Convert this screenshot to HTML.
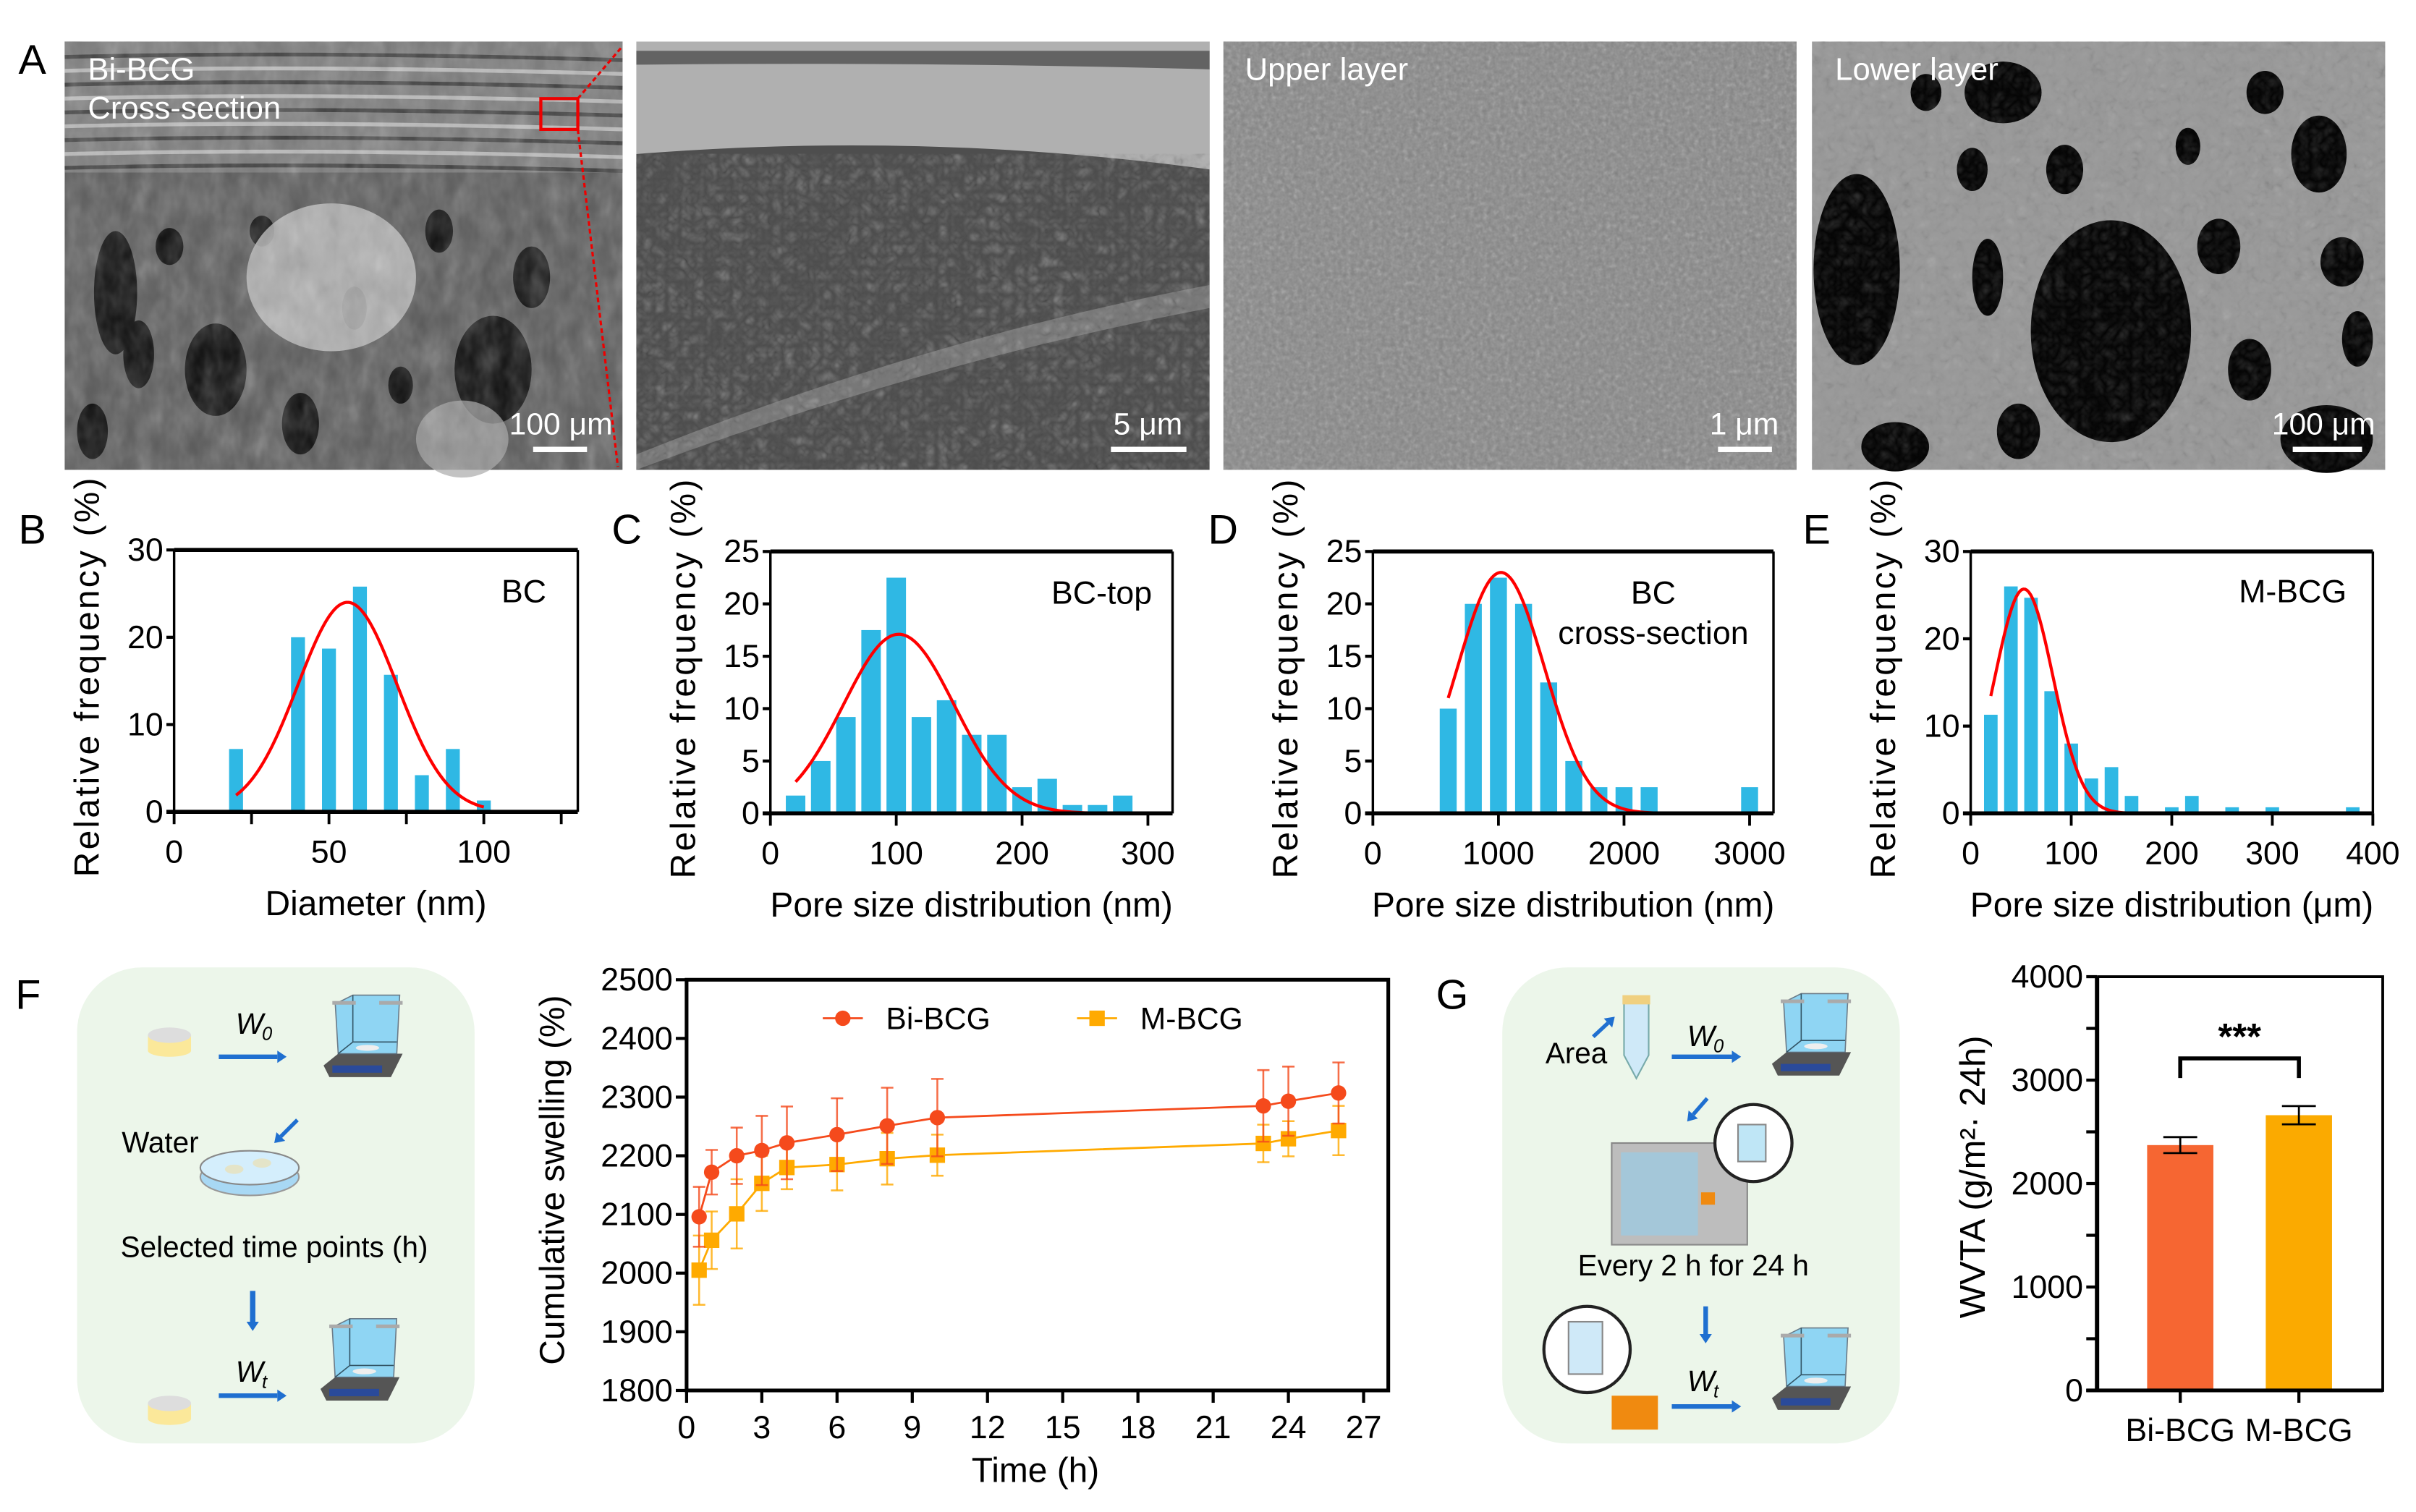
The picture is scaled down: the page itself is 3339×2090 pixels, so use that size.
<!DOCTYPE html>
<html><head><meta charset="utf-8"><style>
html,body{margin:0;padding:0;background:#fff;}
svg{display:block;font-family:"Liberation Sans",Arial,sans-serif;}
</style></head><body>
<svg id="fig" width="3339" height="2090" viewBox="0 0 1568 981.5" preserveAspectRatio="none">
<defs>
<filter id="noiseA" x="0" y="0" width="100%" height="100%"><feTurbulence type="fractalNoise" baseFrequency="0.09 0.05" numOctaves="3" seed="3"/><feColorMatrix type="saturate" values="0"/></filter>
<filter id="noiseF" x="0" y="0" width="100%" height="100%"><feTurbulence type="fractalNoise" baseFrequency="0.35" numOctaves="2" seed="7"/><feColorMatrix type="saturate" values="0"/></filter>
<filter id="noiseB" x="0" y="0" width="100%" height="100%"><feTurbulence type="turbulence" baseFrequency="0.12" numOctaves="2" seed="5"/><feColorMatrix type="saturate" values="0"/></filter>
</defs>
<g id="panelA"></g>
<g id="charts"></g>
</svg>
<script>
// ---------- data ----------
const bCenters=[20,40,50,60,70,80,90,100];
const bValues=[7.2,20,18.7,25.8,15.7,4.2,7.2,1.3];
const bFit=[24,56,16,20,100];
const cCenters=[20,40,60,80,100,120,140,160,180,200,220,240,260,280];
const cValues=[1.7,5,9.2,17.5,22.5,9.2,10.8,7.5,7.5,2.5,3.3,0.8,0.8,1.7];
const cFit=[17.1,102,44,20,280];
const dCenters=[600,800,1000,1200,1400,1600,1800,2000,2200,3000];
const dValues=[10,20,22.5,20,12.5,5,2.5,2.5,2.5,2.5];
const dFit=[23,1020,346,600,3000];
const eCenters=[20,40,60,80,100,120,140,160,200,220,260,300,380];
const eValues=[11.3,26,24.7,14,8,4,5.3,2,0.7,2,0.7,0.7,0.7];
const eFit=[25.7,53,29,20,380];
const fTimes=[0.5,1,2,3,4,6,8,10,23,24,26];
const fBi=[2096,2172,2200,2209,2222,2236,2251,2265,2285,2293,2307];
const fBiErr=[51,38,48,59,62,62,65,66,61,59,52];
const fM=[2005,2056,2101,2153,2180,2185,2195,2201,2221,2229,2243];
const fMErr=[59,49,59,47,37,44,44,35,32,30,42];
const fXTicks=[0,3,6,9,12,15,18,21,24,27];
const fYTicks=[1800,1900,2000,2100,2200,2300,2400,2500];
const gCats=['Bi-BCG','M-BCG'];
const gValues=[2372,2661];
const gErr=[77,88];
const gYTicks=[0,1000,2000,3000,4000];

const NS='http://www.w3.org/2000/svg';
const root=document.getElementById('charts');
function el(tag,attrs,parent,txt){const e=document.createElementNS(NS,tag);for(const k in attrs)e.setAttribute(k,attrs[k]);if(txt!==undefined)e.textContent=txt;(parent||root).appendChild(e);return e;}

// ---------- Panel A images ----------
(function(){
const A=document.getElementById('panelA');
const y0=27;
// img1
let g=el('g',{},A);
el('rect',{x:42,y:y0,width:362,height:278,fill:'#5a5a5a'},g);
el('rect',{x:42,y:y0,width:362,height:85,fill:'#7a7a7a'},g);
for(let i=0;i<9;i++)el('path',{d:`M42 ${y0+10+i*9} Q200 ${y0+6+i*9} 404 ${y0+12+i*9}`,stroke:i%2?'#d0d0d0':'#2a2a2a',"stroke-width":2.5,fill:'none',opacity:0.75},g);
[[75,190,14,40],[140,240,20,30],[110,160,9,12],[320,240,25,35],[230,200,8,14],[60,280,10,18],[285,150,9,14],[195,275,12,20],[90,230,10,22],[345,180,12,20],[260,250,8,12],[170,150,8,10]].forEach(p=>el('ellipse',{cx:p[0],cy:p[1],rx:p[2],ry:p[3],fill:'#080808'},g));
el('ellipse',{cx:215,cy:180,rx:55,ry:48,fill:'#bdbdbd',opacity:0.85},g);
el('ellipse',{cx:300,cy:285,rx:30,ry:25,fill:'#aaa',opacity:0.7},g);
el('rect',{x:42,y:y0,width:362,height:278,filter:'url(#noiseA)',opacity:0.4},g);
el('rect',{x:351,y:64,width:24,height:20,fill:'none',stroke:'#e00',"stroke-width":2},g);
el('line',{x1:375,y1:64,x2:404,y2:30,stroke:'#e00',"stroke-width":1.5,"stroke-dasharray":'3,2'},g);
el('line',{x1:375,y1:84,x2:401,y2:303,stroke:'#e00',"stroke-width":1.5,"stroke-dasharray":'3,2'},g);
// img2
g=el('g',{},A);
el('rect',{x:413,y:y0,width:372,height:278,fill:'#4e4e4e'},g);
el('path',{d:'M413 27 H785 V110 Q600 85 413 100 Z',fill:'#b0b0b0'},g);
el('path',{d:'M413 33 H785 V45 Q600 40 413 42 Z',fill:'#303030',opacity:0.6},g);
el('path',{d:'M413 295 Q600 220 785 185 V200 Q600 235 413 305 Z',fill:'#8a8a8a',opacity:0.7},g);
el('rect',{x:413,y:100,width:372,height:205,filter:'url(#noiseB)',opacity:0.55},g);
// img3
g=el('g',{},A);
el('rect',{x:794,y:y0,width:372,height:278,fill:'#858585'},g);
el('rect',{x:794,y:y0,width:372,height:278,filter:'url(#noiseF)',opacity:0.45},g);
// img4
g=el('g',{},A);
el('rect',{x:1176,y:y0,width:372,height:278,fill:'#9a9a9a'},g);
[[1205,175,28,62],[1370,215,52,72],[1510,285,30,22],[1505,100,18,25],[1300,60,25,20],[1470,60,12,14],[1230,290,22,16],[1440,160,14,18],[1280,110,10,14],[1340,110,12,16],[1520,170,14,16],[1250,60,10,12],[1290,180,10,25],[1460,240,14,20],[1530,220,10,18],[1420,95,8,12],[1310,280,14,18]].forEach(p=>el('ellipse',{cx:p[0],cy:p[1],rx:p[2],ry:p[3],fill:'#050505'},g));
el('rect',{x:1176,y:y0,width:372,height:278,filter:'url(#noiseB)',opacity:0.3},g);
// labels
const lab=[[57,52,'Bi-BCG'],[57,77,'Cross-section'],[808,52,'Upper layer'],[1191,52,'Lower layer']];
lab.forEach(l=>{const t=el('text',{x:l[0],y:l[1],fill:'#fff',"font-size":20.5},A,l[2]);});
const sb=[[364,346,381,'100 μm'],[745,721,770,'5 μm'],[1132,1115,1150,'1 μm'],[1508,1488,1533,'100 μm']];
sb.forEach(s=>{const t=el('text',{x:s[0],y:282,fill:'#fff',"font-size":20,"text-anchor":'middle'},A,s[3]);
const r=el('rect',{x:s[1],y:290,width:s[2]-s[1],height:3.5,fill:'#fff'},A);});
})();

// ---------- panel letters ----------
[[12,48,'A'],[12,353,'B'],[397,353,'C'],[784,353,'D'],[1170,353,'E'],[10,655,'F'],[932,655,'G']].forEach(p=>{
const t=el('text',{x:p[0],y:p[1],"font-size":27,fill:'#000'},root,p[2]);

});

// ---------- histogram ----------
function hist(o){
const g=el('g',{});
const X=v=>o.px0+(v-o.x0)*(o.px1-o.px0)/(o.xr-o.x0);
const Y=v=>o.py0-v*(o.py0-o.py1)/o.ymax;
o.centers.forEach((c,i)=>{const r=el('rect',{x:X(c-o.bw/2),y:Y(o.values[i]),width:X(c+o.bw/2)-X(c-o.bw/2),height:Y(0)-Y(o.values[i]),fill:'#2fb8e4'},g);

});
const f=o.fit;let d='';
for(let k=0;k<=200;k++){const x=f[3]+(f[4]-f[3])*k/200;const y=f[0]*Math.exp(-0.5*Math.pow((x-f[1])/f[2],2));d+=(k?'L':'M')+X(x).toFixed(2)+' '+Y(y).toFixed(2);}
const p=el('path',{d:d,fill:'none',stroke:'#f00',"stroke-width":2},g);


el('line',{x1:o.px0,y1:o.py1,x2:o.pxr,y2:o.py1,stroke:'#000',"stroke-width":2.6},g);
el('line',{x1:o.pxr,y1:o.py1,x2:o.pxr,y2:o.py0,stroke:'#000',"stroke-width":1.6},g);
el('line',{x1:o.px0,y1:o.py1,x2:o.px0,y2:o.py0,stroke:'#000',"stroke-width":1.6},g);
el('line',{x1:o.px0-5,y1:o.py0,x2:o.pxr,y2:o.py0,stroke:'#000',"stroke-width":2.6},g);
o.yticks.forEach(v=>{el('line',{x1:o.px0-5,y1:Y(v),x2:o.px0,y2:Y(v),stroke:'#000',"stroke-width":2},g);
const t=el('text',{x:o.px0-7,y:Y(v)+7,"font-size":21,"text-anchor":'end'},g,String(v));});
o.xticks.forEach(v=>{el('line',{x1:X(v),y1:o.py0,x2:X(v),y2:o.py0+8,stroke:'#000',"stroke-width":1.8},g);});
o.xlabels.forEach(v=>{const t=el('text',{x:X(v),y:o.py0+33,"font-size":21,"text-anchor":'middle'},g,String(v));});
const xt=el('text',{x:(o.px0+o.pxr)/2,y:o.py0+67,"font-size":22.5,"text-anchor":'middle'},g,o.xtitle);

const yt=el('text',{x:0,y:0,"font-size":22.5,"text-anchor":'middle',"letter-spacing":1.5,transform:`translate(${o.px0-49},${(o.py0+o.py1)/2-3}) rotate(-90)`},g,'Relative frequency (%)');

o.tags.forEach(tg=>{const t=el('text',{x:tg[0],y:tg[1],"font-size":21,"text-anchor":'middle'},g,tg[2]);});
}
hist({name:'histogram-b-bc-diameter',px0:113,px1:314,x0:0,xr:100,pxr:375,py0:527,py1:357,ymax:30,centers:bCenters,values:bValues,bw:4.5,fit:bFit,yticks:[0,10,20,30],xticks:[0,25,50,75,100,125],xlabels:[0,50,100],xtitle:'Diameter (nm)',tags:[[340,391,'BC']]});
hist({name:'histogram-c-bc-top',px0:500,px1:745,x0:0,xr:300,pxr:761,py0:528,py1:358,ymax:25,centers:cCenters,values:cValues,bw:15.5,fit:cFit,yticks:[0,5,10,15,20,25],xticks:[0,100,200,300],xlabels:[0,100,200,300],xtitle:'Pore size distribution (nm)',tags:[[715,392,'BC-top']]});
hist({name:'histogram-d-bc-cross-section',px0:891,px1:1135.5,x0:0,xr:3000,pxr:1151,py0:528,py1:358,ymax:25,centers:dCenters,values:dValues,bw:135,fit:dFit,yticks:[0,5,10,15,20,25],xticks:[0,1000,2000,3000],xlabels:[0,1000,2000,3000],xtitle:'Pore size distribution (nm)',tags:[[1073,392,'BC'],[1073,418,'cross-section']]});
hist({name:'histogram-e-m-bcg',px0:1279,px1:1540,x0:0,xr:400,pxr:1540,py0:528,py1:358,ymax:30,centers:eCenters,values:eValues,bw:13.5,fit:eFit,yticks:[0,10,20,30],xticks:[0,100,200,300,400],xlabels:[0,100,200,300,400],xtitle:'Pore size distribution (μm)',tags:[[1488,391,'M-BCG']]});

// ---------- icons ----------
function balance(x,y,s,parent){
const g=el('g',{transform:`translate(${x},${y}) scale(${s})`},parent);

el('path',{d:'M0 48 L10 40 H54 L46 56 H4 Z',fill:'#555'},g);
el('rect',{x:6,y:48,width:34,height:5,fill:'#2a4a9a'},g);
el('path',{d:'M8 6 L20 0 H52 L50 40 H10 Z',fill:'#7fd0f5',opacity:0.85,stroke:'#567',"stroke-width":0.8},g);
el('path',{d:'M20 0 V32 L10 40 M20 32 H50',fill:'none',stroke:'#356',"stroke-width":0.8},g);
el('rect',{x:6,y:4,width:16,height:2.5,fill:'#aaa'},g);el('rect',{x:38,y:4,width:16,height:2.5,fill:'#aaa'},g);
el('ellipse',{cx:30,cy:36,rx:8,ry:2,fill:'#eee'},g);
}
function arrow(x1,y1,x2,y2,parent,w){
const g=el('g',{},parent);
const a=Math.atan2(y2-y1,x2-x1);const hx=x2-6*Math.cos(a),hy=y2-6*Math.sin(a);
el('line',{x1:x1,y1:y1,x2:hx,y2:hy,stroke:'#1f6fd0',"stroke-width":w||3},g);
el('path',{d:`M${x2} ${y2} L${hx+4*Math.sin(a)} ${hy-4*Math.cos(a)} L${hx-4*Math.sin(a)} ${hy+4*Math.cos(a)} Z`,fill:'#1f6fd0'},g);
}
function disk(cx,cy,parent){
const g=el('g',{},parent);
el('rect',{x:cx-14,y:cy-4,width:28,height:10,fill:'#fbe89a'},g);
el('ellipse',{cx:cx,cy:cy+6,rx:14,ry:4,fill:'#fbe89a'},g);
el('ellipse',{cx:cx,cy:cy-4,rx:14,ry:5,fill:'#ddd'},g);
}
// panel F schematic
(function(){
const g=el('g',{});
el('rect',{x:50,y:628,width:258,height:309,rx:42,fill:'#ecf6ea'},g);
disk(110,676,g);arrow(142,686,186,686,g);
el('text',{x:153,y:671,"font-size":19,"font-style":'italic'},g,'W');
el('text',{x:170,y:675,"font-size":12,"font-style":'italic'},g,'0');
balance(210,646,0.95,g);
arrow(193,727,178,742,g,2.5);
const w=el('text',{x:79,y:748,"font-size":19},g,'Water');
el('ellipse',{cx:162,cy:764,rx:32,ry:12,fill:'#a8d8f4',stroke:'#999'},g);
el('ellipse',{cx:162,cy:758,rx:32,ry:11,fill:'#d4eefc',stroke:'#888'},g);
el('ellipse',{cx:152,cy:759,rx:6,ry:3,fill:'#e4e4c8'},g);el('ellipse',{cx:170,cy:755,rx:6,ry:3,fill:'#e4e4c8'},g);
const st=el('text',{x:178,y:816,"font-size":19,"text-anchor":'middle'},g,'Selected time points (h)');
arrow(164,838,164,864,g,3.5);
disk(110,915,g);arrow(142,906,186,906,g);
el('text',{x:153,y:897,"font-size":19,"font-style":'italic'},g,'W');
el('text',{x:170,y:901,"font-size":12,"font-style":'italic'},g,'t');
balance(208,856,0.95,g);
})();
// panel G schematic
(function(){
const g=el('g',{});
el('rect',{x:975,y:628,width:258,height:309,rx:42,fill:'#ecf6ea'},g);
const a=el('text',{x:1003,y:690,"font-size":19},g,'Area');
arrow(1034,673,1048,660,g,2.5);
el('path',{d:'M1054 650 H1070 V685 L1062 700 L1054 685 Z',fill:'#cfe9f8',stroke:'#7aa'},g);
el('rect',{x:1053,y:646,width:18,height:6,fill:'#f0d080'},g);
arrow(1085,686,1130,686,g);
el('text',{x:1095,y:679,"font-size":19,"font-style":'italic'},g,'W');
el('text',{x:1112,y:683,"font-size":12,"font-style":'italic'},g,'0');
balance(1150,645,0.95,g);
arrow(1108,713,1095,728,g,2.5);
el('rect',{x:1046,y:742,width:88,height:66,fill:'#bdbdbd',stroke:'#888'},g);
el('rect',{x:1052,y:748,width:50,height:54,fill:'#9ec9e0',opacity:0.8},g);
el('rect',{x:1104,y:774,width:9,height:8,fill:'#f08a10'},g);
el('circle',{cx:1138,cy:742,r:25,fill:'#fff',stroke:'#222',"stroke-width":2},g);
el('rect',{x:1128,y:730,width:18,height:24,fill:'#bfe6f6',stroke:'#888'},g);
const e=el('text',{x:1099,y:828,"font-size":19,"text-anchor":'middle'},g,'Every 2 h for 24 h');
arrow(1107,848,1107,872,g,3);
el('circle',{cx:1030,cy:876,r:28,fill:'#fff',stroke:'#222',"stroke-width":2},g);
el('rect',{x:1018,y:858,width:22,height:34,fill:'#cfe9f8',stroke:'#888'},g);
el('rect',{x:1046,y:906,width:30,height:22,fill:'#f08a10'},g);
arrow(1085,913,1130,913,g);
el('text',{x:1095,y:903,"font-size":19,"font-style":'italic'},g,'W');
el('text',{x:1112,y:907,"font-size":12,"font-style":'italic'},g,'t');
balance(1150,862,0.95,g);
})();

// ---------- panel F line chart ----------
(function(){
const g=el('g',{});
const L=445.6,R=901,T=636,B=902.6;
const X=v=>L+v*(885-L)/27;const Y=v=>B-(v-1800)*(B-T)/700;
el('rect',{x:L,y:T,width:R-L,height:B-T,fill:'none',stroke:'#000',"stroke-width":2.4},g);
fYTicks.forEach(v=>{el('line',{x1:L-7,y1:Y(v),x2:L,y2:Y(v),stroke:'#000',"stroke-width":2},g);
const t=el('text',{x:L-9,y:Y(v)+7,"font-size":21,"text-anchor":'end'},g,String(v));});
fXTicks.forEach(v=>{el('line',{x1:X(v),y1:B,x2:X(v),y2:B+8,stroke:'#000',"stroke-width":2},g);
const t=el('text',{x:X(v),y:B+31,"font-size":21,"text-anchor":'middle'},g,String(v));});
const xt=el('text',{x:672,y:962,"font-size":22.5,"text-anchor":'middle'},g,'Time (h)');
const yt=el('text',{x:0,y:0,"font-size":22.5,"text-anchor":'middle',transform:`translate(366,766) rotate(-90)`},g,'Cumulative swelling (%)');
function series(vals,errs,color,shape,name){
const sg=el('g',{},g);
fTimes.forEach((t,i)=>{const x=X(t);
el('line',{x1:x,y1:Y(vals[i]-errs[i]),x2:x,y2:Y(vals[i]+errs[i]),stroke:color,"stroke-width":1.2,opacity:0.8},sg);
[vals[i]-errs[i],vals[i]+errs[i]].forEach(v=>el('line',{x1:x-4,y1:Y(v),x2:x+4,y2:Y(v),stroke:color,"stroke-width":1.2,opacity:0.8},sg));});
el('polyline',{points:fTimes.map((t,i)=>X(t)+','+Y(vals[i])).join(' '),fill:'none',stroke:color,"stroke-width":1.3},sg);
fTimes.forEach((t,i)=>{let m;if(shape==='c')m=el('circle',{cx:X(t),cy:Y(vals[i]),r:5,fill:color},sg);else m=el('rect',{x:X(t)-5,y:Y(vals[i])-5,width:10,height:10,fill:color},sg);
});
}
series(fM,fMErr,'#ffaa00','s','series-m-bcg');
series(fBi,fBiErr,'#f54a1c','c','series-bi-bcg');
const lg=el('g',{},g);
el('line',{x1:534,y1:661,x2:560,y2:661,stroke:'#f54a1c',"stroke-width":1.3},lg);el('circle',{cx:547,cy:661,r:5,fill:'#f54a1c'},lg);
el('text',{x:575,y:668,"font-size":20},lg,'Bi-BCG');
el('line',{x1:699,y1:661,x2:725,y2:661,stroke:'#ffaa00',"stroke-width":1.3},lg);el('rect',{x:707,y:656,width:10,height:10,fill:'#ffaa00'},lg);
el('text',{x:740,y:668,"font-size":20},lg,'M-BCG');
})();

// ---------- panel G bar chart ----------
(function(){
const g=el('g',{});
const L=1361,R=1546.4,T=634,B=902.6;
const Y=v=>B-v*(B-T)/4000;
const centers=[1415,1492];const bw=43;
gCats.forEach((c,i)=>{const r=el('rect',{x:centers[i]-bw/2,y:Y(gValues[i]),width:bw,height:B-Y(gValues[i]),fill:i?'#fbaa00':'#f66632'},g);

const x=centers[i];
el('line',{x1:x,y1:Y(gValues[i]-gErr[i]),x2:x,y2:Y(gValues[i]+gErr[i]),stroke:'#000',"stroke-width":1.3},g);
[gValues[i]-gErr[i],gValues[i]+gErr[i]].forEach(v=>el('line',{x1:x-11,y1:Y(v),x2:x+11,y2:Y(v),stroke:'#000',"stroke-width":1.3},g));
el('line',{x1:x,y1:B,x2:x,y2:B+8,stroke:'#000',"stroke-width":2},g);
const t=el('text',{x:x,y:B+33,"font-size":21,"text-anchor":'middle'},g,c);});
el('path',{d:`M${L} ${T} H${R} V${B} H${L-7}`,fill:'none',stroke:'#000',"stroke-width":1.8},g);
el('line',{x1:L,y1:T,x2:L,y2:B,stroke:'#000',"stroke-width":2.8},g);
el('line',{x1:L-7,y1:B,x2:R,y2:B,stroke:'#000',"stroke-width":2.4},g);
for(let v=0;v<=4000;v+=500){el('line',{x1:L-7,y1:Y(v),x2:L,y2:Y(v),stroke:'#000',"stroke-width":2},g);}
gYTicks.forEach(v=>{const t=el('text',{x:L-9,y:Y(v)+7,"font-size":21,"text-anchor":'end'},g,String(v));});
const br=el('path',{d:`M${centers[0]} ${Y(3020)} V${Y(3210)} H${centers[1]} V${Y(3020)}`,fill:'none',stroke:'#000',"stroke-width":2.6},g);

const s=el('text',{x:(centers[0]+centers[1])/2,y:Y(3300),"font-size":24,"font-weight":'bold',"text-anchor":'middle'},g,'***');
const yt=el('text',{x:0,y:0,"font-size":23,"text-anchor":'middle',transform:`translate(1288,764) rotate(-90)`},g,'WVTA (g/m²· 24h)');
})();
</script>
</body></html>
